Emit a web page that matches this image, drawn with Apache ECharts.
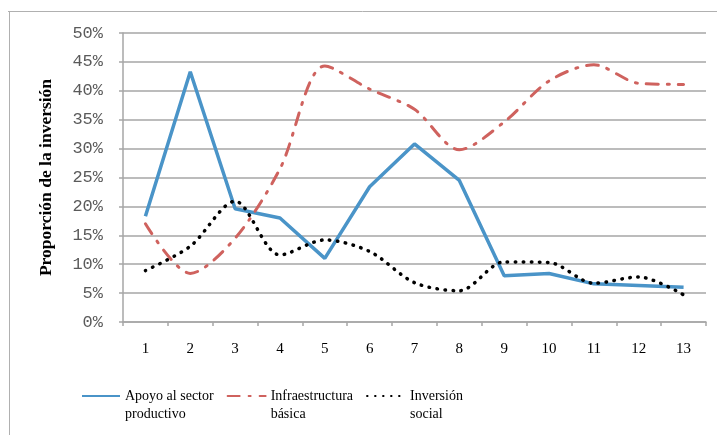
<!DOCTYPE html>
<html>
<head>
<meta charset="utf-8">
<script src="https://cdn.jsdelivr.net/npm/echarts@6/dist/echarts.min.js"></script>
<style>
  html, body { margin: 0; padding: 0; background: #fff; }
  #chart { width: 717px; height: 435px; }
</style>
</head>
<body>
<div id="chart"></div>
<script>
// datos
const periods = ['1', '2', '3', '4', '5', '6', '7', '8', '9', '10', '11', '12', '13'];
const apoyo = [18.3, 43.3, 19.6, 18.0, 11.0, 23.4, 30.8, 24.5, 8.0, 8.4, 6.6, 6.3, 6.0];
const infraestructura = [17.0, 8.4, 14.5, 26.5, 44.3, 40.3, 36.8, 29.8, 34.6, 41.7, 44.5, 41.3, 41.1];
const social = [8.9, 13.1, 20.9, 11.6, 14.2, 12.2, 6.8, 5.4, 10.4, 10.3, 6.7, 7.8, 4.7];
const yTicks = [0, 5, 10, 15, 20, 25, 30, 35, 40, 45, 50];

const gray = '#a6a6a6';
const serif = '"Liberation Serif", "DejaVu Serif", serif';

let myChart = echarts.init(document.getElementById('chart'));

let option = {
  animation: false,
  backgroundColor: '#fff',
  graphic: [
    // marco exterior (solo arriba e izquierda visibles)
    { type: 'line', shape: { x1: 8, y1: 11.5, x2: 717, y2: 11.5 }, style: { stroke: '#b0b0b0', lineWidth: 1 }, silent: true },
    { type: 'line', shape: { x1: 9.5, y1: 11, x2: 9.5, y2: 435 }, style: { stroke: '#b0b0b0', lineWidth: 1 }, silent: true }
  ],
  grid: { left: 123, right: 11, top: 33, bottom: 113 },
  legend: {
    left: 76,
    top: 364,
    itemWidth: 38,
    itemHeight: 14,
    itemGap: 13,
    itemStyle: { opacity: 0 },
    formatter: function (name) { return '\n' + name; },
    textStyle: {
      fontFamily: serif,
      fontSize: 14,
      color: '#000',
      lineHeight: 18
    },
    data: ['Apoyo al sector\nproductivo', 'Infraestructura\nbásica', 'Inversión\nsocial']
  },
  xAxis: {
    type: 'category',
    data: periods,
    boundaryGap: true,
    axisLine: { lineStyle: { color: gray, width: 1.5 } },
    axisTick: { show: true, length: 4, alignWithLabel: false, lineStyle: { color: gray, width: 1.5 } },
    axisLabel: { fontFamily: serif, fontSize: 15, color: '#000', margin: 20 }
  },
  yAxis: {
    type: 'value',
    min: 0,
    max: 50,
    interval: 5,
    name: 'Proporción de la inversión',
    nameLocation: 'middle',
    nameGap: 68,
    nameTextStyle: { fontFamily: serif, fontSize: 17.5, fontWeight: 'bold', color: '#000' },
    axisLine: { show: true, lineStyle: { color: gray, width: 1.5 } },
    axisTick: { show: true, length: 4, lineStyle: { color: gray, width: 1.5 } },
    splitLine: { lineStyle: { color: gray, width: 1.5 } },
    axisLabel: {
      fontFamily: '"Liberation Mono", "DejaVu Sans Mono", monospace',
      fontSize: 17,
      color: '#5a5a5a',
      margin: 20,
      formatter: function (v) { return yTicks.indexOf(v) >= 0 ? v + '%' : ''; }
    }
  },
  series: [
    {
      name: 'Apoyo al sector\nproductivo',
      type: 'line',
      data: apoyo,
      symbol: 'none',
      lineStyle: { color: '#4a94c8', width: 3.5 },
      itemStyle: { color: '#4a94c8' }
    },
    {
      name: 'Infraestructura\nbásica',
      type: 'line',
      data: infraestructura,
      symbol: 'none',
      smooth: 0.3,
      lineStyle: { color: '#cf625e', width: 3, type: [12, 9, 2, 9], cap: 'round' },
      itemStyle: { color: '#cf625e' }
    },
    {
      name: 'Inversión\nsocial',
      type: 'line',
      data: social,
      symbol: 'none',
      smooth: 0.3,
      lineStyle: { color: '#000', width: 3.5, type: [0.5, 7.5], cap: 'round' },
      itemStyle: { color: '#000' }
    }
  ]
};

myChart.setOption(option);
window.addEventListener('resize', function () {
  myChart.resize();
});
</script>
</body>
</html>
